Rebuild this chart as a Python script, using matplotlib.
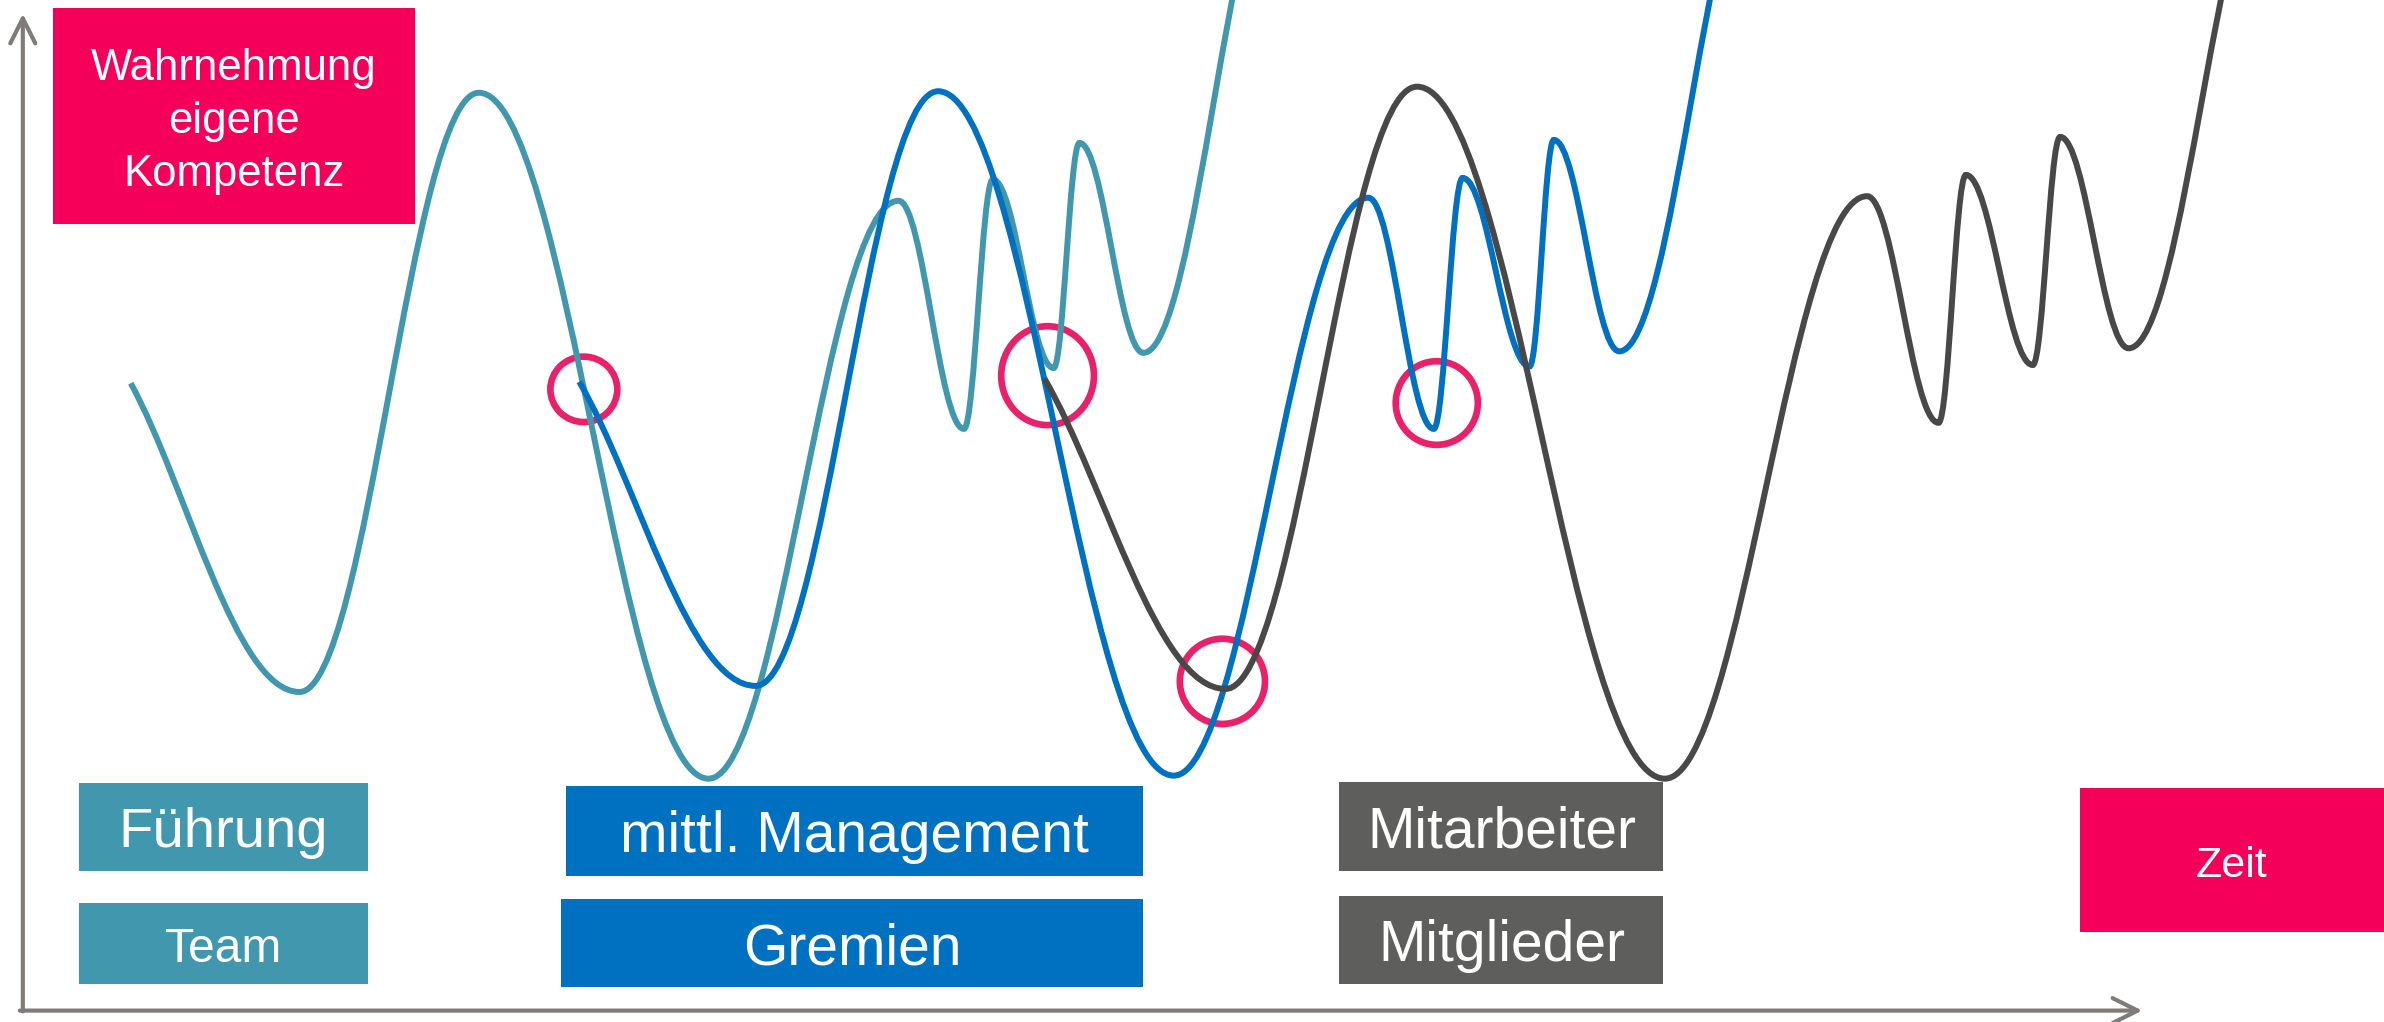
import matplotlib.pyplot as plt
from matplotlib.path import Path
from matplotlib.patches import PathPatch, Ellipse, Rectangle

plt.rcParams['font.family'] = ['Liberation Sans', 'DejaVu Sans']

# turning points of the three waves (x, y), y counted from the top
fuehrung_x = [86, 197, 315, 466, 591, 634, 653, 693, 710, 752, 845]
fuehrung_y = [252, 455, 61, 512, 132, 282, 118, 242, 94, 232, -100]
management_x = [381, 497, 617, 772, 900, 943, 962, 1006, 1022, 1065, 1160]
management_y = [251, 451, 60, 510, 130, 282, 117, 241, 92, 231, -100]
mitarbeiter_x = [687, 806, 932, 1095, 1228, 1275, 1293, 1337, 1355, 1400, 1497]
mitarbeiter_y = [249, 453, 57, 512, 129, 278, 115, 240, 90, 229, -100]

# hand-over points marked with circles
circle_x = [384, 689, 804, 945]
circle_y = [256, 247, 448, 265]

y_title = ['Wahrnehmung', 'eigene', 'Kompetenz']
x_title = 'Zeit'
group_labels = [['Führung', 'Team'], ['mittl. Management', 'Gremien'], ['Mitarbeiter', 'Mitglieder']]

TEAL = '#4198AE'
BLUE = '#0070C0'
DARK = '#484848'
GREYBOX = '#5E5E5C'
PINK = '#F4005B'
RING = '#E8216A'
AXIS = '#7F7B78'


def wave(xs, ys, k=0.38):
    verts = [(xs[0], ys[0])]
    codes = [Path.MOVETO]
    for i in range(1, len(xs)):
        x0, y0, x1, y1 = xs[i-1], ys[i-1], xs[i], ys[i]
        dx = x1 - x0
        if i == 1:
            c1 = (x0 + dx / 3, y0 + (y1 - y0) / 3)
        else:
            c1 = (x0 + k * dx, y0)
        c2 = (x1 - k * dx, y1)
        verts += [c1, c2, (x1, y1)]
        codes += [Path.CURVE4] * 3
    return Path(verts, codes)


fig = plt.figure(figsize=(23.84, 10.22), dpi=100)
ax = fig.add_axes([0, 0, 1, 1])
ax.set_xlim(0, 1568)
ax.set_ylim(672, 0)
ax.axis('off')

ring_w = [44, 61, 56, 54]
ring_h = [43, 65, 56, 55]
for cx, cy, w, h in zip(circle_x, circle_y, ring_w, ring_h):
    ax.add_patch(Ellipse((cx, cy), w, h, fill=False, ec=RING, lw=4.8, zorder=1))

for xs, ys, col, z in [(fuehrung_x, fuehrung_y, TEAL, 2),
                       (management_x, management_y, BLUE, 3),
                       (mitarbeiter_x, mitarbeiter_y, DARK, 4)]:
    ax.add_patch(PathPatch(wave(xs, ys), fill=False, ec=col, lw=4.3,
                           capstyle='butt', zorder=z))

# axes arrows
arrow = dict(arrowstyle='->', lw=3, color=AXIS, mutation_scale=45,
             shrinkA=0, shrinkB=0)
ax.annotate('', xy=(15, 9), xytext=(15, 665), arrowprops=arrow, zorder=5)
ax.annotate('', xy=(1409, 664.5), xytext=(13, 664.5), arrowprops=arrow, zorder=5)


def box(x0, y0, x1, y1, color, text, size):
    ax.add_patch(Rectangle((x0, y0), x1 - x0, y1 - y0, fc=color, ec='none', zorder=6))
    ax.text((x0 + x1) / 2, (y0 + y1) / 2 + 4, text, color='white',
            fontsize=size, ha='center', va='center', zorder=7)


box(35, 5, 273, 147, PINK, '', 10)
for i, line in enumerate(y_title):
    ax.text(154, 45 + i * 35, line, color='white', fontsize=31.5,
            ha='center', va='center', zorder=7)
box(1368, 518, 1568, 613, PINK, x_title, 31)

box(52, 515, 242, 573, TEAL, group_labels[0][0], 40.5)
box(52, 594, 242, 647, TEAL, group_labels[0][1], 34.5)
box(372, 517, 752, 576, BLUE, group_labels[1][0], 41)
box(369, 591, 752, 649, BLUE, group_labels[1][1], 41)
box(881, 514, 1094, 573, GREYBOX, group_labels[2][0], 41)
box(881, 589, 1094, 647, GREYBOX, group_labels[2][1], 41)

fig.savefig('out.png', dpi=100)
